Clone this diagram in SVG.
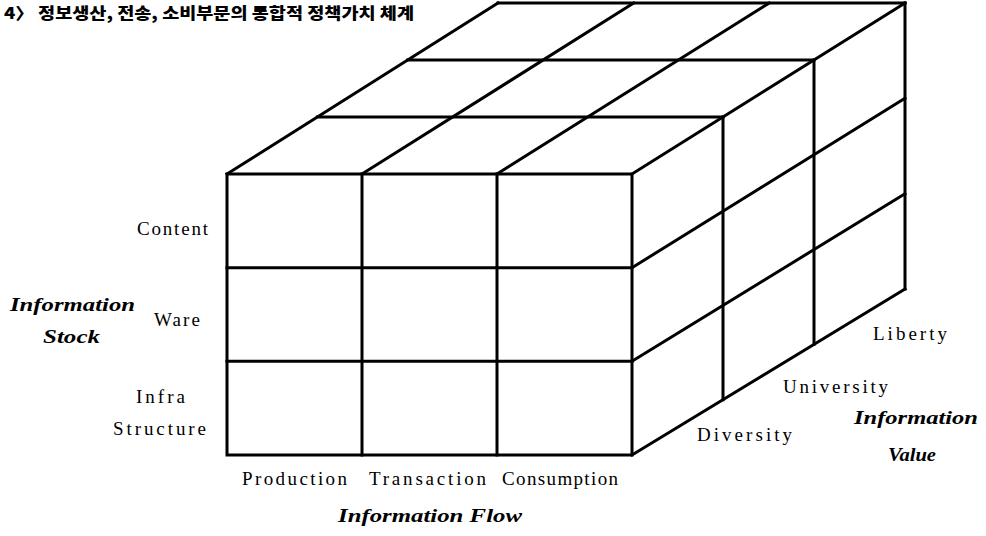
<svg xmlns="http://www.w3.org/2000/svg" width="986" height="536" viewBox="0 0 986 536">
<style>
.ln{stroke:#000;stroke-width:3;fill:none;stroke-linecap:square;stroke-linejoin:miter}
.lb{font-family:"Liberation Serif","DejaVu Serif",serif;font-size:19px;fill:#000}
.ax{font-family:"Liberation Serif","DejaVu Serif",serif;font-size:19px;font-weight:bold;font-style:italic;fill:#000}
.tt{font-family:"Noto Sans CJK KR","Noto Sans",sans-serif;font-size:16px;font-weight:900;fill:#000}
</style>
<rect width="986" height="536" fill="#fff"/>
<g id="title"><text class="tt" x="4" y="19" textLength="410" lengthAdjust="spacingAndGlyphs">4〉 정보생산, 전송, 소비부문의 통합적 정책가치 체계</text></g>
<g id="connectors">
<g id="front-face">
<rect class="ln" x="227" y="174" width="405" height="281"/>
<path class="ln" d="M362,174V455M497,174V455M227,267.7H632M227,361.3H632"/>
</g>
<g id="top-face">
<path class="ln" d="M498,3H905M317.3,117H723M407.7,60H814"/>
<path class="ln" d="M227,174L498,3M362,174L633.7,3M497,174L769.3,3M632,174L905,3"/>
</g>
<g id="right-face">
<path class="ln" d="M905,3V289M723,117V399.7M814,60V344.3"/>
<path class="ln" d="M632,267.7L905,98.3M632,361.3L905,193.7M632,455L905,289"/>
</g>
</g>
<g id="stock-labels">
<text class="lb" x="137" y="235" textLength="71" lengthAdjust="spacing">Content</text>
<text class="lb" x="154" y="326" textLength="46" lengthAdjust="spacing">Ware</text>
<text class="lb" x="136" y="403" textLength="49" lengthAdjust="spacing">Infra</text>
<text class="lb" x="113" y="435" textLength="93" lengthAdjust="spacing">Structure</text>
<text class="ax" x="10" y="311" textLength="125" lengthAdjust="spacingAndGlyphs">Information</text>
<text class="ax" x="43" y="343" textLength="57" lengthAdjust="spacingAndGlyphs">Stock</text>
</g>
<g id="flow-labels">
<text class="lb" x="242" y="485" textLength="105" lengthAdjust="spacing">Production</text>
<text class="lb" x="369" y="485" textLength="117" lengthAdjust="spacing">Transaction</text>
<text class="lb" x="502" y="485" textLength="116" lengthAdjust="spacing">Consumption</text>
<text class="ax" x="338" y="522" textLength="184" lengthAdjust="spacingAndGlyphs">Information Flow</text>
</g>
<g id="value-labels">
<text class="lb" x="873" y="340" textLength="74" lengthAdjust="spacing">Liberty</text>
<text class="lb" x="783" y="393" textLength="105" lengthAdjust="spacing">University</text>
<text class="lb" x="697" y="441" textLength="95" lengthAdjust="spacing">Diversity</text>
<text class="ax" x="854" y="424" textLength="124" lengthAdjust="spacingAndGlyphs">Information</text>
<text class="ax" x="888" y="461" textLength="48" lengthAdjust="spacingAndGlyphs">Value</text>
</g>
</svg>
